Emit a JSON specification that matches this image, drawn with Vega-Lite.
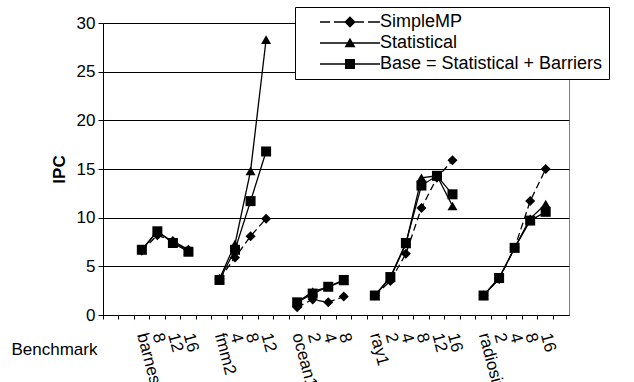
{
  "$schema": "https://vega.github.io/schema/vega-lite/v6.json",
  "width": 466,
  "height": 292,
  "autosize": {"type": "none"},
  "padding": {"left": 103, "top": 23, "right": 65, "bottom": 67},
  "background": "white",
  "data": {"values": [
    {"s":"SimpleMP","g":"barnes","x":"barnes","v":6.6},
    {"s":"SimpleMP","g":"barnes","x":"barnes 8","v":8.2},
    {"s":"SimpleMP","g":"barnes","x":"barnes 12","v":7.6},
    {"s":"SimpleMP","g":"barnes","x":"barnes 16","v":6.7},
    {"s":"SimpleMP","g":"fmm2","x":"fmm2","v":3.7},
    {"s":"SimpleMP","g":"fmm2","x":"fmm2 4","v":5.9},
    {"s":"SimpleMP","g":"fmm2","x":"fmm2 8","v":8.1},
    {"s":"SimpleMP","g":"fmm2","x":"fmm2 12","v":9.9},
    {"s":"SimpleMP","g":"ocean1","x":"ocean1","v":0.8},
    {"s":"SimpleMP","g":"ocean1","x":"ocean1 2","v":1.6},
    {"s":"SimpleMP","g":"ocean1","x":"ocean1 4","v":1.3},
    {"s":"SimpleMP","g":"ocean1","x":"ocean1 8","v":1.9},
    {"s":"SimpleMP","g":"ray1","x":"ray1","v":2.0},
    {"s":"SimpleMP","g":"ray1","x":"ray1 2","v":3.5},
    {"s":"SimpleMP","g":"ray1","x":"ray1 4","v":6.3},
    {"s":"SimpleMP","g":"ray1","x":"ray1 8","v":11.0},
    {"s":"SimpleMP","g":"ray1","x":"ray1 12","v":14.1},
    {"s":"SimpleMP","g":"ray1","x":"ray1 16","v":15.9},
    {"s":"SimpleMP","g":"radiosity","x":"radiosity","v":2.0},
    {"s":"SimpleMP","g":"radiosity","x":"radiosity 2","v":3.7},
    {"s":"SimpleMP","g":"radiosity","x":"radiosity 4","v":6.9},
    {"s":"SimpleMP","g":"radiosity","x":"radiosity 8","v":11.7},
    {"s":"SimpleMP","g":"radiosity","x":"radiosity 16","v":15.0},
    {"s":"Statistical","g":"barnes","x":"barnes","v":6.7},
    {"s":"Statistical","g":"barnes","x":"barnes 8","v":8.6},
    {"s":"Statistical","g":"barnes","x":"barnes 12","v":7.5},
    {"s":"Statistical","g":"barnes","x":"barnes 16","v":6.6},
    {"s":"Statistical","g":"fmm2","x":"fmm2","v":3.7},
    {"s":"Statistical","g":"fmm2","x":"fmm2 4","v":7.3},
    {"s":"Statistical","g":"fmm2","x":"fmm2 8","v":14.8},
    {"s":"Statistical","g":"fmm2","x":"fmm2 12","v":28.3},
    {"s":"Statistical","g":"ocean1","x":"ocean1","v":1.3},
    {"s":"Statistical","g":"ocean1","x":"ocean1 2","v":2.4},
    {"s":"Statistical","g":"ocean1","x":"ocean1 4","v":2.9},
    {"s":"Statistical","g":"ocean1","x":"ocean1 8","v":3.5},
    {"s":"Statistical","g":"ray1","x":"ray1","v":2.0},
    {"s":"Statistical","g":"ray1","x":"ray1 2","v":3.8},
    {"s":"Statistical","g":"ray1","x":"ray1 4","v":7.3},
    {"s":"Statistical","g":"ray1","x":"ray1 8","v":14.1},
    {"s":"Statistical","g":"ray1","x":"ray1 12","v":14.3},
    {"s":"Statistical","g":"ray1","x":"ray1 16","v":11.2},
    {"s":"Statistical","g":"radiosity","x":"radiosity","v":2.0},
    {"s":"Statistical","g":"radiosity","x":"radiosity 2","v":3.8},
    {"s":"Statistical","g":"radiosity","x":"radiosity 4","v":6.9},
    {"s":"Statistical","g":"radiosity","x":"radiosity 8","v":9.9},
    {"s":"Statistical","g":"radiosity","x":"radiosity 16","v":11.4},
    {"s":"Base = Statistical + Barriers","g":"barnes","x":"barnes","v":6.7},
    {"s":"Base = Statistical + Barriers","g":"barnes","x":"barnes 8","v":8.6},
    {"s":"Base = Statistical + Barriers","g":"barnes","x":"barnes 12","v":7.4},
    {"s":"Base = Statistical + Barriers","g":"barnes","x":"barnes 16","v":6.5},
    {"s":"Base = Statistical + Barriers","g":"fmm2","x":"fmm2","v":3.6},
    {"s":"Base = Statistical + Barriers","g":"fmm2","x":"fmm2 4","v":6.7},
    {"s":"Base = Statistical + Barriers","g":"fmm2","x":"fmm2 8","v":11.7},
    {"s":"Base = Statistical + Barriers","g":"fmm2","x":"fmm2 12","v":16.8},
    {"s":"Base = Statistical + Barriers","g":"ocean1","x":"ocean1","v":1.3},
    {"s":"Base = Statistical + Barriers","g":"ocean1","x":"ocean1 2","v":2.2},
    {"s":"Base = Statistical + Barriers","g":"ocean1","x":"ocean1 4","v":2.9},
    {"s":"Base = Statistical + Barriers","g":"ocean1","x":"ocean1 8","v":3.6},
    {"s":"Base = Statistical + Barriers","g":"ray1","x":"ray1","v":2.0},
    {"s":"Base = Statistical + Barriers","g":"ray1","x":"ray1 2","v":3.9},
    {"s":"Base = Statistical + Barriers","g":"ray1","x":"ray1 4","v":7.4},
    {"s":"Base = Statistical + Barriers","g":"ray1","x":"ray1 8","v":13.3},
    {"s":"Base = Statistical + Barriers","g":"ray1","x":"ray1 12","v":14.3},
    {"s":"Base = Statistical + Barriers","g":"ray1","x":"ray1 16","v":12.4},
    {"s":"Base = Statistical + Barriers","g":"radiosity","x":"radiosity","v":2.0},
    {"s":"Base = Statistical + Barriers","g":"radiosity","x":"radiosity 2","v":3.8},
    {"s":"Base = Statistical + Barriers","g":"radiosity","x":"radiosity 4","v":6.9},
    {"s":"Base = Statistical + Barriers","g":"radiosity","x":"radiosity 8","v":9.7},
    {"s":"Base = Statistical + Barriers","g":"radiosity","x":"radiosity 16","v":10.6}
  ]},
  "encoding": {
    "x": {
      "field": "x", "type": "nominal",
      "scale": {"type": "band", "paddingInner": 0, "paddingOuter": 0,
        "domain": ["_0","_1","barnes","barnes 8","barnes 12","barnes 16","_6","fmm2","fmm2 4","fmm2 8","fmm2 12","_11","ocean1","ocean1 2","ocean1 4","ocean1 8","_16","ray1","ray1 2","ray1 4","ray1 8","ray1 12","ray1 16","_23","radiosity","radiosity 2","radiosity 4","radiosity 8","radiosity 16","_29"]},
      "axis": {
        "title": "Benchmark",
        "titleFontSize": 17, "titleFontWeight": "normal", "titleColor": "black",
        "titleX": -92, "titleY": 34, "titleAlign": "left", "titleBaseline": "middle", "titleAngle": 0,
        "bandPosition": 0,
        "labelAngle": 75, "labelAlign": "left", "labelBaseline": "middle",
        "labelPadding": 14, "labelFontSize": 17, "labelColor": "black",
        "labelExpr": "indexof(datum.label, '_') === 0 ? '' : (indexof(datum.label, ' ') > 0 ? split(datum.label, ' ')[1] : datum.label)",
        "labelOverlap": false, "labelBound": false, "labelFlush": false,
        "tickSize": 4, "tickColor": "black", "tickWidth": 1,
        "domainColor": "black", "domainWidth": 1, "grid": false
      }
    },
    "y": {
      "field": "v", "type": "quantitative",
      "scale": {"domain": [0, 30], "nice": false},
      "axis": {
        "title": "IPC", "titleFontSize": 17, "titleFontWeight": "bold", "titleColor": "black", "titlePadding": 8,
        "values": [0, 5, 10, 15, 20, 25, 30],
        "labelFontSize": 17, "labelColor": "black", "labelPadding": 3,
        "tickSize": 5, "tickColor": "black", "domainColor": "black",
        "grid": true, "gridColor": "black", "gridWidth": 1, "gridOpacity": 1
      }
    }
  },
  "layer": [
    {
      "transform": [{"filter": "datum.s === 'SimpleMP'"}],
      "mark": {"type": "line", "color": "black", "strokeWidth": 1.3, "strokeDash": [7, 4]},
      "encoding": {"detail": [{"field": "g"}]}
    },
    {
      "transform": [{"filter": "datum.s !== 'SimpleMP'"}],
      "mark": {"type": "line", "color": "black", "strokeWidth": 1.3},
      "encoding": {"detail": [{"field": "s"}, {"field": "g"}]}
    },
    {
      "mark": {"type": "point", "filled": true, "color": "black", "opacity": 1, "size": 100},
      "encoding": {
        "shape": {
          "field": "s", "type": "nominal",
          "scale": {"domain": ["SimpleMP", "Statistical", "Base = Statistical + Barriers"], "range": ["diamond", "triangle-up", "square"]},
          "legend": null
        }
      }
    },
    {
      "mark": {"type": "point", "filled": true, "color": "black", "opacity": 0, "size": 100},
      "encoding": {
        "shape": {
          "field": "s", "type": "nominal",
          "scale": {"domain": ["SimpleMP", "Statistical", "Base = Statistical + Barriers"],
            "range": [
              "M-6,-0.16H-4V0.16H-6Z M-3.2,-0.16H-1V0.16H-3.2Z M1,-0.16H2.8V0.16H1Z M3.6,-0.16H6V0.16H3.6Z M0,-1.15L1.15,0L0,1.15L-1.15,0Z",
              "M-6,-0.14H6V0.14H-6Z M0,-1.05L1.1,0.85L-1.1,0.85Z",
              "M-6,-0.14H6V0.14H-6Z M-1,-1L1,-1L1,1L-1,1Z"
            ]},
          "legend": {"symbolOpacity": 1, "symbolFillColor": "black", "symbolStrokeWidth": 0}
        }
      }
    }
  ],
  "resolve": {"scale": {"shape": "independent"}, "legend": {"shape": "independent"}},
  "config": {
    "font": "Liberation Sans",
    "view": {"stroke": "#808080", "strokeWidth": 1},
    "legend": {
      "title": null,
      "orient": "none", "legendX": 192, "legendY": -16,
      "strokeColor": "black", "fillColor": "white", "padding": 6,
      "labelFontSize": 18, "labelColor": "black", "labelFont": "Liberation Sans", "labelLimit": 400,
      "symbolSize": 100, "rowPadding": 3,
      "symbolOffset": 40, "labelOffset": 21
    }
  }
}
